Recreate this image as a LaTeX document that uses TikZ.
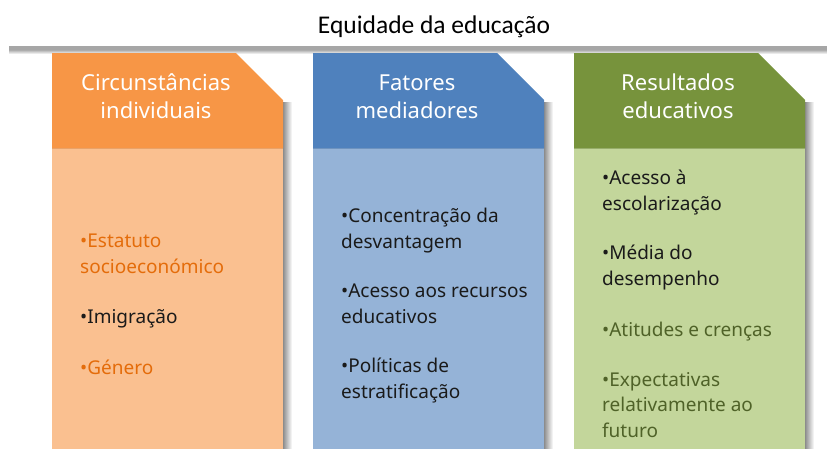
\documentclass[tikz,border=0pt]{standalone}
\usepackage{fontspec}
\setmainfont{Noto Sans}
\newfontfamily\titlefont{Carlito}
\usetikzlibrary{shadows.blur}
\definecolor{orH}{HTML}{F79646}
\definecolor{orB}{HTML}{FAC090}
\definecolor{orT}{HTML}{E46C0A}
\definecolor{blH}{HTML}{4F81BD}
\definecolor{blB}{HTML}{95B3D7}
\definecolor{grH}{HTML}{77933C}
\definecolor{grB}{HTML}{C3D69B}
\definecolor{grT}{HTML}{4F6228}
\definecolor{barG}{HTML}{A6A6A6}
\definecolor{txtD}{HTML}{1A1A1A}
\tikzset{
  headtxt/.style={text=white, align=center, font=\fontsize{22}{28}\selectfont, inner sep=0pt, anchor=base},
  item/.style={anchor=base west, align=left, inner sep=0pt, font=\fontsize{19}{25.5}\selectfont, text=txtD},
  titletxt/.style={font=\titlefont\fontsize{25.5}{28}\selectfont, inner sep=0pt, anchor=base}
}
\newcommand{\column}[4]{%
  % #1 x0, #2 header colour, #3 body colour, #4 name
  \shade[left color=black!45, right color=white] (#1+231,102) rectangle (#1+240,470);
  \fill[#3] (#1,148) rectangle (#1+231,470);
  \fill[#2] (#1,53) -- (#1+184,53) -- (#1+231,100) -- (#1+231,148) -- (#1,148) -- cycle;
  \draw[#2!85!black, line width=0.6pt, opacity=0.4] (#1,148) -- (#1+231,148);
  \coordinate (#4) at (#1+104,118);
}
\begin{document}
\begin{tikzpicture}[x=1pt,y=-1pt]
\useasboundingbox (0,0) rectangle (827,448);
\clip (0,0) rectangle (827,448);
\fill[white] (0,0) rectangle (827,448);
% bar
\shade[top color=black!40, bottom color=white] (9,49) rectangle (830,54);
\fill[barG] (9,46) rectangle (830,50);
\node[titletxt] (title) at (434,33) {Equidade da educação};
% columns
\column{52}{orH}{orB}{cA}
\column{313}{blH}{blB}{cB}
\column{574}{grH}{grB}{cC}
% (anchor base = baseline of the last line)
\node[headtxt] (hA) at (cA) {Circunstâncias\\individuais};
\node[headtxt] (hB) at (cB) {Fatores\\mediadores};
\node[headtxt] (hC) at (cC) {Resultados\\educativos};
% orange items
\node[item, text=orT] (a1) at (80,273) {•Estatuto\\socioeconómico};
\node[item] (a2) at (80,323) {•Imigração};
\node[item, text=orT] (a3) at (80,374) {•Género};
% blue items
\node[item] (b1) at (341,248) {•Concentração da\\desvantagem};
\node[item] (b2) at (341,323) {•Acesso aos recursos\\educativos};
\node[item] (b3) at (341,398) {•Políticas de\\estratificação};
% green items
\node[item] (c1) at (602,210) {•Acesso à\\escolarização};
\node[item] (c2) at (602,285) {•Média do\\desempenho};
\node[item, text=grT] (c3) at (602,336) {•Atitudes e crenças};
\node[item, text=grT] (c4) at (602,437) {•Expectativas\\relativamente ao\\futuro};
\end{tikzpicture}
\end{document}
